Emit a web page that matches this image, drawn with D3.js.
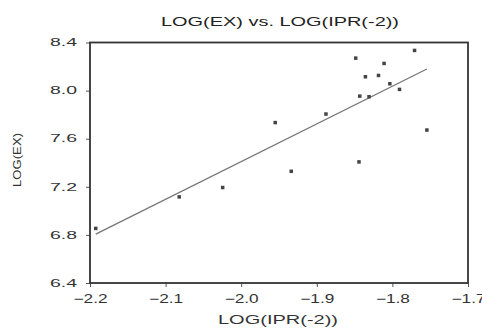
<!DOCTYPE html>
<html>
<head>
<meta charset="utf-8">
<script src="https://cdn.jsdelivr.net/npm/d3@7/dist/d3.min.js"></script>
<style>
  html, body { margin: 0; padding: 0; background: #fff; }
  svg { display: block; font-family: "Liberation Sans", Arial, sans-serif; }
</style>
</head>
<body>
<svg id="chart" width="482" height="328"></svg>
<script>
// LOG(IPR(-2)) values (x)
const logIPR = [-1.8485, -1.7707, -1.8110, -1.8357, -1.8184, -1.8034, -1.7906, -1.8432, -1.8309,
                -1.8879, -1.9550, -1.7544, -1.8442, -1.9338, -2.0245, -2.0820, -2.1924];
// LOG(EX) values (y)
const logEX  = [8.270, 8.334, 8.226, 8.115, 8.126, 8.057, 8.010, 7.954, 7.949,
                7.805, 7.734, 7.672, 7.407, 7.329, 7.194, 7.116, 6.854];
const xTicks = [-2.2, -2.1, -2.0, -1.9, -1.8, -1.7];
const yTicks = [6.4, 6.8, 7.2, 7.6, 8.0, 8.4];
const titleText = "LOG(EX) vs. LOG(IPR(-2))";
const xTitle = "LOG(IPR(-2))";
const yTitle = "LOG(EX)";

const svg = d3.select("#chart");
const L = 90, R = 468, T = 42.5, B = 283;
const x = d3.scaleLinear().domain([-2.2, -1.7]).range([L, R]);
const y = d3.scaleLinear().domain([6.4, 8.4]).range([B, T]);

// title
svg.append("text").attr("x", 280).attr("y", 25.5).attr("text-anchor", "middle")
  .attr("font-size", 13).attr("fill", "#222")
  .attr("textLength", 238).attr("lengthAdjust", "spacingAndGlyphs").text(titleText);

// axes
const fmt = d3.format(".1f");
const gx = svg.append("g").attr("transform", `translate(0,${B})`)
  .call(d3.axisBottom(x).tickValues(xTicks).tickFormat(fmt).tickSize(4).tickPadding(7));
const gy = svg.append("g").attr("transform", `translate(${L},0)`)
  .call(d3.axisLeft(y).tickValues(yTicks).tickFormat(fmt).tickSize(4).tickPadding(9));
[gx, gy].forEach(g => {
  g.select(".domain").remove();
  g.selectAll(".tick line").attr("stroke", "#555").attr("stroke-width", 1);
  g.selectAll(".tick text").attr("fill", "#333").attr("font-family", "Liberation Sans, Arial, sans-serif");
});
gx.selectAll(".tick text").attr("font-size", 12).attr("textLength", 34)
  .attr("lengthAdjust", "spacingAndGlyphs");
gy.selectAll(".tick text").attr("font-size", 10).attr("textLength", 27)
  .attr("lengthAdjust", "spacingAndGlyphs");

// frame
svg.append("rect").attr("x", L).attr("y", T).attr("width", R - L).attr("height", B - T)
  .attr("fill", "none").attr("stroke", "#333").attr("stroke-width", 1.8);

// regression line (OLS)
const n = logIPR.length;
const mx = d3.mean(logIPR), my = d3.mean(logEX);
let sxy = 0, sxx = 0;
for (let i = 0; i < n; i++) { sxy += (logIPR[i] - mx) * (logEX[i] - my); sxx += (logIPR[i] - mx) ** 2; }
const b = sxy / sxx, a = my - b * mx;
const [x0, x1] = d3.extent(logIPR);
svg.append("line")
  .attr("x1", x(x0)).attr("y1", y(a + b * x0))
  .attr("x2", x(x1)).attr("y2", y(a + b * x1))
  .attr("stroke", "#777").attr("stroke-width", 1.3);

// points
svg.append("g").selectAll("rect").data(d3.range(n)).join("rect")
  .attr("x", i => x(logIPR[i]) - 1.75).attr("y", i => y(logEX[i]) - 1.75)
  .attr("width", 3.5).attr("height", 3.5).attr("fill", "#444");

// axis titles
svg.append("text").attr("x", 278).attr("y", 324).attr("text-anchor", "middle")
  .attr("font-size", 12).attr("fill", "#333")
  .attr("textLength", 120).attr("lengthAdjust", "spacingAndGlyphs").text(xTitle);
svg.append("text").attr("transform", "translate(21,160) rotate(-90)").attr("text-anchor", "middle")
  .attr("font-size", 11).attr("fill", "#333")
  .attr("textLength", 54).attr("lengthAdjust", "spacingAndGlyphs").text(yTitle);
</script>
</body>
</html>
